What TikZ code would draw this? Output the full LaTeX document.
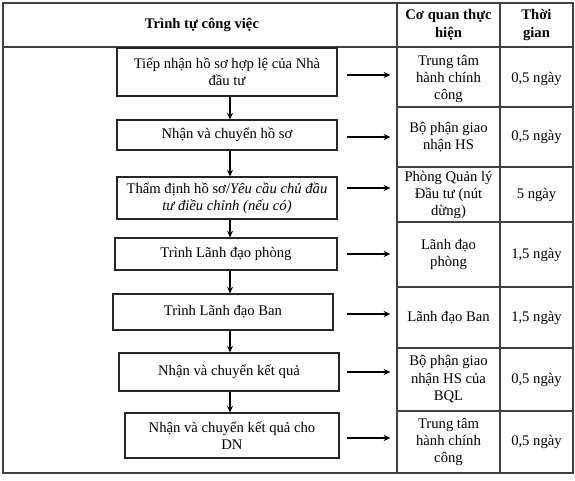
\documentclass[tikz,border=0pt]{standalone}
\usepackage{fontspec}
\setmainfont{Liberation Serif}
\usetikzlibrary{arrows.meta}

\begin{document}
\begin{tikzpicture}[x=0.75pt,y=-0.75pt,line width=0.8pt,>=Stealth,
  txt/.style={font=\fontsize{11}{13.1}\selectfont,align=center,inner sep=0pt},
  hd/.style={txt,font=\fontsize{11}{13.1}\selectfont\bfseries},
  stepbox/.style={draw=black!85,txt,line width=0.8pt},
  flow/.style={-{Stealth[length=5pt,width=4.5pt]},line width=0.8pt}]
\useasboundingbox (0,0) rectangle (575,480);
% ---------- table frame ----------
\draw[black!75,line width=0.9pt] (3,3) rectangle (573,473);
\draw[black!75] (3,47) -- (573,47);
\draw[black!75] (397,3) -- (397,473);
\draw[black!75] (500,3) -- (500,473);
\foreach \y in {107,167,222,287,348,411}
  \draw[black!75] (397,\y) -- (573,\y);
\coordinate (col2) at (397,0);
\coordinate (ax) at (230,0);
% ---------- header ----------
\node[hd] (hstep) at (202,25) {Trình tự công việc};
\node[hd] (hunit) at (448.5,25) {Cơ quan thực\\hiện};
\node[hd] (htime) at (536.5,25) {Thời\\gian};
% ---------- steps ----------
\node[stepbox,minimum width=165pt,minimum height=36pt] (b1) at (227,72)
  {Tiếp nhận hồ sơ hợp lệ của Nhà\\đầu tư};
\node[stepbox,minimum width=165pt,minimum height=22.5pt] (b2) at (227,135)
  {Nhận và chuyển hồ sơ};
\node[stepbox,minimum width=165pt,minimum height=31.5pt] (b3) at (227,198)
  {Thẩm định hồ sơ/\textit{Yêu cầu chủ đầu}\\\textit{tư điều chỉnh (nếu có)}};
\node[stepbox,minimum width=166.5pt,minimum height=24pt] (b4) at (226,254)
  {Trình Lãnh đạo phòng};
\node[stepbox,minimum width=165pt,minimum height=27pt] (b5) at (223,312)
  {Trình Lãnh đạo Ban};
\node[stepbox,minimum width=165pt,minimum height=28.5pt] (b6) at (229,372)
  {Nhận và chuyển kết quả};
\node[stepbox,minimum width=160.5pt,minimum height=33.75pt] (b7) at (232,435.5)
  {Nhận và chuyển kết quả cho\\DN};
% ---------- units and times ----------
\node[txt] (c1) at (448.5,79) {Trung tâm\\hành chính\\công};
\node[txt] (c2) at (448.5,137) {Bộ phận giao\\nhận HS};
\node[txt] (c3) at (448.5,195) {Phòng Quản lý\\Đầu tư (nút\\dừng)};
\node[txt] (c4) at (448.5,254.5) {Lãnh đạo\\phòng};
\node[txt] (c5) at (448.5,317.5) {Lãnh đạo Ban};
\node[txt] (c6) at (448.5,379.5) {Bộ phận giao\\nhận HS của\\BQL};
\node[txt] (c7) at (448.5,442) {Trung tâm\\hành chính\\công};
\node[txt] (t1) at (536.5,79) {0,5 ngày};
\node[txt] (t2) at (536.5,137) {0,5 ngày};
\node[txt] (t3) at (536.5,194.5) {5 ngày};
\node[txt] (t4) at (536.5,254.5) {1,5 ngày};
\node[txt] (t5) at (536.5,317.5) {1,5 ngày};
\node[txt] (t6) at (536.5,379.5) {0,5 ngày};
\node[txt] (t7) at (536.5,442) {0,5 ngày};
% ---------- arrows ----------
\foreach \a/\b in {1/2,2/3,3/4,4/5,5/6,6/7}
  \draw[flow] (b\a.south -| ax) -- (b\b.north -| ax);
\foreach \i/\y in {1/75,2/137,3/188,4/254,5/314,6/372,7/438}{
  \coordinate (h\i) at (347,\y);
  \draw[flow] (h\i) -- ([xshift=-5pt]h\i -| col2);
}
\end{tikzpicture}
\end{document}
